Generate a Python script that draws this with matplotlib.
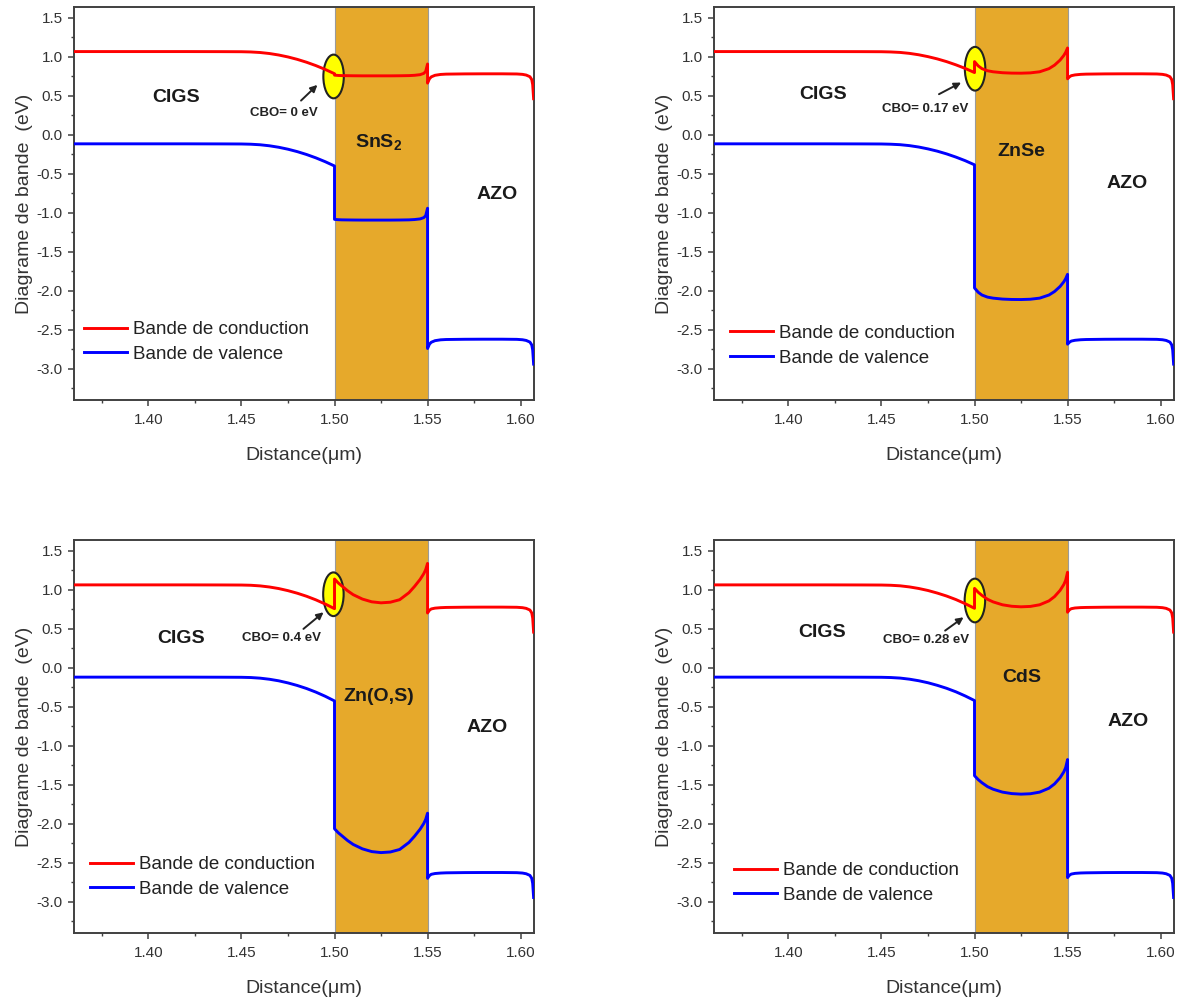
import matplotlib
matplotlib.use("Agg")
import matplotlib.pyplot as plt
from matplotlib.patches import Ellipse
from matplotlib.ticker import MultipleLocator, FixedLocator, FormatStrFormatter

plt.rcParams["font.family"] = ["Liberation Sans", "DejaVu Sans"]
plt.rcParams["mathtext.fontset"] = "custom"
plt.rcParams["mathtext.rm"] = "Liberation Sans"
plt.rcParams["mathtext.bf"] = "Liberation Sans:bold"
plt.rcParams["mathtext.it"] = "Liberation Sans:italic"
plt.rcParams["axes.unicode_minus"] = False

# ---------------------------------------------------------------- data
# Distance grid (µm): CIGS absorber, buffer layer, AZO window
cigs_x = [1.360, 1.400, 1.420, 1.440, 1.450, 1.455, 1.460, 1.465, 1.470,
          1.475, 1.480, 1.485, 1.490, 1.495, 1.500]
buffer_x = [1.500, 1.502, 1.504, 1.507, 1.510, 1.515, 1.520, 1.525, 1.530,
            1.535, 1.540, 1.543, 1.546, 1.548, 1.549, 1.550]
azo_x = [1.550, 1.551, 1.552, 1.554, 1.557, 1.560, 1.570, 1.580, 1.590,
         1.598, 1.601, 1.603, 1.605, 1.606, 1.6065, 1.607]
distance = cigs_x + buffer_x + azo_x

# Conduction (Ec) and valence (Ev) band edges, eV
ec_sns2 = [1.064, 1.064, 1.064, 1.063, 1.062, 1.059, 1.052, 1.039, 1.020, 0.995, 0.964, 0.927, 0.884, 0.835, 0.780,
           0.762, 0.758, 0.756, 0.755, 0.754, 0.753, 0.753, 0.753, 0.753, 0.754, 0.756, 0.760, 0.768, 0.785, 0.810, 0.905,
           0.660, 0.715, 0.740, 0.760, 0.771, 0.775, 0.778, 0.779, 0.779, 0.777, 0.772, 0.763, 0.742, 0.705, 0.640, 0.460]
ev_sns2 = [-0.118, -0.118, -0.118, -0.119, -0.120, -0.123, -0.130, -0.143, -0.162, -0.187, -0.218, -0.255, -0.298, -0.347, -0.402,
           -1.086, -1.090, -1.092, -1.093, -1.094, -1.095, -1.095, -1.095, -1.095, -1.094, -1.092, -1.088, -1.080, -1.063, -1.038, -0.943,
           -2.740, -2.685, -2.660, -2.640, -2.629, -2.625, -2.622, -2.621, -2.621, -2.623, -2.628, -2.637, -2.658, -2.695, -2.760, -2.940]

ec_znse = [1.064, 1.064, 1.064, 1.063, 1.062, 1.059, 1.053, 1.041, 1.023, 0.999, 0.970, 0.935, 0.894, 0.848, 0.795,
           0.935, 0.880, 0.845, 0.818, 0.805, 0.793, 0.788, 0.787, 0.791, 0.805, 0.845, 0.890, 0.955, 1.015, 1.055, 1.110,
           0.715, 0.740, 0.755, 0.765, 0.772, 0.775, 0.778, 0.779, 0.779, 0.777, 0.772, 0.763, 0.742, 0.705, 0.640, 0.460]
ev_znse = [-0.118, -0.118, -0.118, -0.119, -0.120, -0.123, -0.129, -0.141, -0.159, -0.183, -0.212, -0.247, -0.288, -0.334, -0.387,
           -1.965, -2.020, -2.055, -2.082, -2.095, -2.107, -2.112, -2.113, -2.109, -2.095, -2.055, -2.010, -1.945, -1.885, -1.845, -1.790,
           -2.685, -2.660, -2.645, -2.635, -2.628, -2.625, -2.622, -2.621, -2.621, -2.623, -2.628, -2.637, -2.658, -2.695, -2.760, -2.940]

ec_znos = [1.060, 1.060, 1.060, 1.059, 1.058, 1.055, 1.047, 1.033, 1.013, 0.986, 0.953, 0.914, 0.868, 0.815, 0.755,
           1.135, 1.085, 1.045, 0.985, 0.935, 0.878, 0.843, 0.830, 0.838, 0.870, 0.960, 1.040, 1.130, 1.205, 1.255, 1.335,
           0.700, 0.735, 0.752, 0.762, 0.768, 0.771, 0.774, 0.775, 0.775, 0.773, 0.768, 0.759, 0.738, 0.700, 0.635, 0.455]
ev_znos = [-0.122, -0.122, -0.122, -0.123, -0.124, -0.127, -0.135, -0.149, -0.169, -0.196, -0.229, -0.268, -0.314, -0.367, -0.427,
           -2.065, -2.115, -2.155, -2.215, -2.265, -2.322, -2.357, -2.370, -2.362, -2.330, -2.240, -2.160, -2.070, -1.995, -1.945, -1.865,
           -2.700, -2.665, -2.648, -2.638, -2.632, -2.629, -2.626, -2.625, -2.625, -2.627, -2.632, -2.641, -2.662, -2.700, -2.765, -2.945]

ec_cds = [1.060, 1.060, 1.060, 1.059, 1.058, 1.055, 1.048, 1.034, 1.014, 0.988, 0.955, 0.917, 0.872, 0.819, 0.760,
          1.015, 0.965, 0.925, 0.875, 0.842, 0.805, 0.786, 0.779, 0.784, 0.805, 0.855, 0.910, 0.990, 1.065, 1.120, 1.222,
          0.710, 0.740, 0.755, 0.764, 0.769, 0.771, 0.774, 0.775, 0.775, 0.773, 0.768, 0.759, 0.738, 0.700, 0.635, 0.455]
ev_cds = [-0.122, -0.122, -0.122, -0.123, -0.124, -0.127, -0.134, -0.148, -0.168, -0.194, -0.227, -0.265, -0.310, -0.363, -0.422,
          -1.385, -1.435, -1.475, -1.525, -1.558, -1.595, -1.614, -1.621, -1.616, -1.595, -1.545, -1.490, -1.410, -1.335, -1.280, -1.178,
          -2.690, -2.660, -2.645, -2.636, -2.631, -2.629, -2.626, -2.625, -2.625, -2.627, -2.632, -2.641, -2.662, -2.700, -2.765, -2.945]

buffer_names = ["SnS$_\\mathbf{2}$", "ZnSe", "Zn(O,S)", "CdS"]
cbo_labels = ["CBO= 0 eV", "CBO= 0.17 eV", "CBO= 0.4 eV", "CBO= 0.28 eV"]
x_ticks = [1.40, 1.45, 1.50, 1.55, 1.60]
y_ticks = [-3.0, -2.5, -2.0, -1.5, -1.0, -0.5, 0.0, 0.5, 1.0, 1.5]
buffer_span = (1.50, 1.55)

# ---------------------------------------------------------------- layout
FIG_W, FIG_H = 1178, 1000
AX_W, AX_H = 460, 393

panels = [
    dict(ec=ec_sns2, ev=ev_sns2, origin=(74, 7),
         cigs=(1.415, 0.47), buf=(1.5234, -0.09), azo=(1.5874, -0.77),
         ell=(1.4995, 0.745), tail=(1.482, 0.436), head=(1.4908, 0.637),
         cbo=(1.4727, 0.274), leg=(0.022, 0.201)),
    dict(ec=ec_znse, ev=ev_znse, origin=(714, 7),
         cigs=(1.4185, 0.517), buf=(1.525, -0.218), azo=(1.582, -0.632),
         ell=(1.5003, 0.844), tail=(1.4809, 0.518), head=(1.4928, 0.667),
         cbo=(1.4737, 0.33), leg=(0.035, 0.191)),
    dict(ec=ec_znos, ev=ev_znos, origin=(74, 540),
         cigs=(1.4174, 0.368), buf=(1.524, -0.372), azo=(1.582, -0.765),
         ell=(1.4994, 0.94), tail=(1.4833, 0.496), head=(1.4941, 0.709),
         cbo=(1.4713, 0.385), leg=(0.035, 0.196)),
    dict(ec=ec_cds, ev=ev_cds, origin=(714, 540),
         cigs=(1.418, 0.453), buf=(1.5254, -0.132), azo=(1.5827, -0.692),
         ell=(1.5002, 0.86), tail=(1.4842, 0.474), head=(1.4941, 0.645),
         cbo=(1.4737, 0.355), leg=(0.043, 0.18)),
]

TEXT_DARK = "#1a1a1a"
AXIS_GREY = "#404040"

fig = plt.figure(figsize=(FIG_W / 100, FIG_H / 100), dpi=100)

for p, name, cbo in zip(panels, buffer_names, cbo_labels):
    left, top = p["origin"]
    ax = fig.add_axes([left / FIG_W, 1 - (top + AX_H) / FIG_H, AX_W / FIG_W, AX_H / FIG_H])

    ax.axvspan(*buffer_span, facecolor="#E6A92B", edgecolor="#9a9a9a", lw=0.8, zorder=1)

    ax.plot(distance, p["ec"], color="#FF0000", lw=2.1, label="Bande de conduction", zorder=3)
    ax.plot(distance, p["ev"], color="#0000FF", lw=2.1, label="Bande de valence", zorder=3)

    ax.add_patch(Ellipse(p["ell"], 0.011, 0.56, facecolor="#FFFF00",
                         edgecolor="#222222", lw=1.5, zorder=2.5))
    ax.annotate("", xy=p["head"], xytext=p["tail"],
                arrowprops=dict(arrowstyle="-|>", color="#222222", lw=1.4,
                                mutation_scale=10, shrinkA=0, shrinkB=0), zorder=4)
    ax.text(*p["cbo"], cbo, ha="center", va="center", fontsize=9.5,
            fontweight="bold", color="#222222", zorder=4)

    ax.text(*p["cigs"], "CIGS", ha="center", va="center", fontsize=14,
            fontweight="bold", color=TEXT_DARK, zorder=4)
    ax.text(*p["buf"], name, ha="center", va="center", fontsize=14,
            fontweight="bold", color=TEXT_DARK, zorder=4)
    ax.text(*p["azo"], "AZO", ha="center", va="center", fontsize=14,
            fontweight="bold", color=TEXT_DARK, zorder=4)

    ax.set_xlim(1.36, 1.6072)
    ax.set_ylim(-3.4, 1.635)
    ax.xaxis.set_major_locator(FixedLocator(x_ticks))
    ax.yaxis.set_major_locator(FixedLocator(y_ticks))
    ax.xaxis.set_minor_locator(MultipleLocator(0.025))
    ax.yaxis.set_minor_locator(MultipleLocator(0.25))
    ax.xaxis.set_major_formatter(FormatStrFormatter("%.2f"))
    ax.yaxis.set_major_formatter(FormatStrFormatter("%.1f"))
    ax.tick_params(which="major", direction="out", length=4.5, width=1.1,
                   color=AXIS_GREY, labelcolor="#333333", labelsize=11)
    ax.tick_params(which="minor", direction="out", length=2.4, width=1.0, color=AXIS_GREY)
    ax.tick_params(axis="x", which="major", pad=5)
    ax.tick_params(axis="y", which="major", pad=3.5)
    for side in ax.spines.values():
        side.set_linewidth(1.4)
        side.set_color(AXIS_GREY)

    ax.set_xlabel("Distance(\u03bcm)", fontsize=14, color="#333333", labelpad=14)
    ax.set_ylabel("Diagrame de bande  (eV)", fontsize=14, color="#333333", labelpad=3)

    leg = ax.legend(loc="upper left", bbox_to_anchor=p["leg"], frameon=False,
                    fontsize=13.5, handlelength=2.3, handletextpad=0.3,
                    labelspacing=0.4, borderpad=0, borderaxespad=0)
    for t in leg.get_texts():
        t.set_color("#222222")

fig.savefig("out.png", dpi=100, facecolor="white")
